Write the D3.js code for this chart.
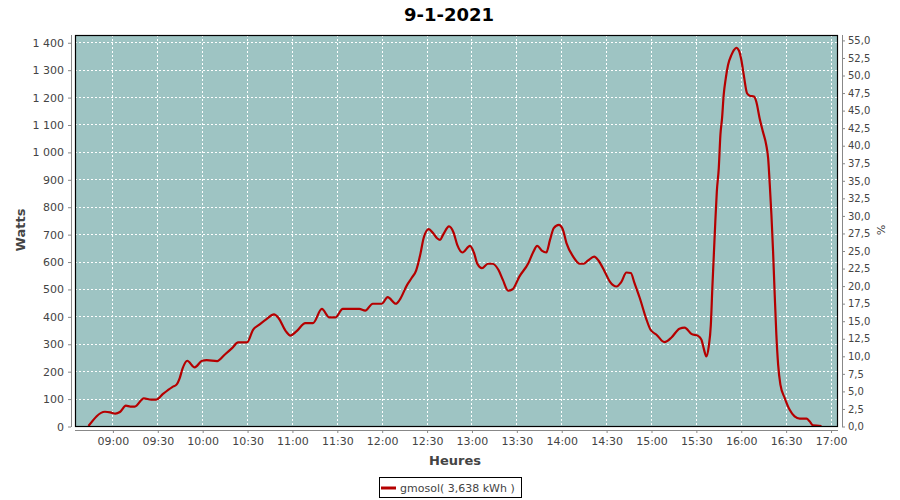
<!DOCTYPE html>
<html>
<head>
<meta charset="utf-8">
<script src="https://cdn.jsdelivr.net/npm/d3@7"></script>
<style>
  html, body { margin: 0; padding: 0; background: #ffffff; }
  svg { display: block; font-family: "DejaVu Sans", sans-serif; }
</style>
</head>
<body>
<svg id="chart" width="900" height="500"></svg>
<script>
// ---- data (minutes since midnight, watts) ----
const title = "9-1-2021";
const seriesName = "gmosol( 3,638 kWh )";
const minutes = [
  524, 535, 538.5, 542, 545, 549, 552, 555, 561, 566, 569, 574, 580, 583, 585, 587, 590, 595, 600, 603,
  610, 615, 620, 624, 630, 634, 638, 643, 648, 651, 656, 659, 663, 669, 674, 680, 685, 689, 694, 705,
  709, 714, 720, 724, 729.5, 732, 737, 740, 743, 746, 748, 751.5, 754, 757, 759, 761, 765, 768, 770.5, 774,
  779, 781.6, 784, 787, 791, 794, 798, 801, 804.5, 807.5, 812, 818, 821, 824, 827, 830, 832.5, 835, 838.4, 841,
  843.5, 848, 852.4, 855, 858, 862, 865, 869, 872.5, 877, 880, 883.6, 886.5, 889, 892.5, 897, 899.7, 903.7, 909, 913.7,
  919, 922.5, 927, 931.4, 933.7, 935.2, 937, 938.6, 940, 941, 942, 943, 944, 945.3, 946.4, 947.5, 948.6, 950, 951.5, 953.8,
  955.5, 957, 958.9, 960.4, 962, 964.2, 966, 968.8, 970.4, 972.6, 974.8, 977, 978.3, 979.4, 980.5, 981.6, 982.7, 983.8, 985, 986.5,
  989.4, 992.7, 996, 999.4, 1004, 1006, 1008.4, 1014
];
const watts = [
  0, 52, 50, 45, 51, 74, 71, 71, 101, 96, 96, 118, 142, 152, 175, 211, 238, 214, 238, 240,
  237, 260, 284, 305, 305, 351, 369, 390, 407, 394, 345, 330, 345, 375, 375, 427, 396, 396, 427, 427,
  421, 446, 446, 470, 446, 460, 515, 540, 567, 631, 685, 718, 706, 685, 679, 697, 728, 706, 661, 633,
  657, 633, 591, 576, 592, 592, 570, 533, 494, 499, 545, 594, 631, 657, 640, 633, 679, 722, 734, 718,
  667, 618, 592, 592, 604, 618, 603, 564, 527, 509, 524, 560, 558, 521, 467, 388, 351, 333, 306, 323,
  355, 359, 336, 329, 315, 284, 254, 290, 369, 503, 624, 746, 855, 940, 1062, 1123, 1208, 1269, 1317, 1354,
  1372, 1380, 1368, 1335, 1281, 1214, 1205, 1202, 1183, 1123, 1074, 1026, 977, 880, 770, 637, 479, 333, 223, 151,
  102, 59, 35, 27, 27, 17, 2, 0
];
const xTicks = [540, 570, 600, 630, 660, 690, 720, 750, 780, 810, 840, 870, 900, 930, 960, 990, 1020];
const wattTicks = [0, 100, 200, 300, 400, 500, 600, 700, 800, 900, 1000, 1100, 1200, 1300, 1400];
const pctTicks = [0, 2.5, 5, 7.5, 10, 12.5, 15, 17.5, 20, 22.5, 25, 27.5, 30, 32.5, 35, 37.5, 40, 42.5, 45, 47.5, 50, 52.5, 55];

// ---- layout ----
const plot = { left: 75, right: 838, top: 35, bottom: 426 };
const svg = d3.select("#chart");

const x = d3.scaleLinear().domain([515, 1025]).range([plot.left, plot.right]);
const y = d3.scaleLinear().domain([0, 1426.5]).range([plot.bottom, plot.top]);
const yPct = d3.scaleLinear().domain([0, 55.7]).range([plot.bottom, plot.top]);

const fmtTime = m => d3.format("02d")(Math.floor(m / 60)) + ":" + d3.format("02d")(m % 60);
const fmtW = v => d3.format(",")(v).replace(/,/g, " ");
const fmtP = v => d3.format(".1f")(v).replace(".", ",");

// title
svg.append("text").attr("x", 449).attr("y", 21).attr("text-anchor", "middle")
  .attr("font-size", 18).attr("font-weight", "bold").attr("fill", "#000").text(title);

// plot background
svg.append("rect").attr("x", plot.left).attr("y", plot.top)
  .attr("width", plot.right - plot.left).attr("height", plot.bottom - plot.top)
  .attr("fill", "#9ec4c3");

// grid
const grid = svg.append("g").attr("stroke", "#ffffff").attr("stroke-width", 1).attr("stroke-dasharray", "2,2");
grid.selectAll("line.v").data(xTicks).join("line")
  .attr("x1", d => Math.round(x(d)) + 0.5).attr("x2", d => Math.round(x(d)) + 0.5)
  .attr("y1", plot.top).attr("y2", plot.bottom);
grid.selectAll("line.h").data(wattTicks.filter(d => d > 0)).join("line")
  .attr("x1", plot.left).attr("x2", plot.right)
  .attr("y1", d => Math.round(y(d)) + 0.5).attr("y2", d => Math.round(y(d)) + 0.5);

// line
const data = minutes.map((m, i) => ({ m, v: watts[i] }));
const line = d3.line().x(d => x(d.m)).y(d => y(d.v)).curve(d3.curveMonotoneX);
svg.append("path").datum(data).attr("d", line)
  .attr("fill", "none").attr("stroke", "#b50000").attr("stroke-width", 2.2)
  .attr("stroke-linejoin", "round");

// plot border
svg.append("rect").attr("x", plot.left + 0.5).attr("y", plot.top + 0.5)
  .attr("width", plot.right - plot.left - 1).attr("height", plot.bottom - plot.top)
  .attr("fill", "none").attr("stroke", "#000").attr("stroke-width", 1.2);

// axes
function styleAxis(g) {
  g.select(".domain").attr("stroke", "#888");
  g.selectAll(".tick line").attr("stroke", "#888");
  g.selectAll(".tick text").attr("fill", "#444").attr("font-size", 11)
    .attr("font-family", "DejaVu Sans, sans-serif");
}

const yLeftScale = y.copy().range([plot.bottom + 0.5, plot.top + 0.5]);
svg.append("g").attr("transform", "translate(71,0)")
  .call(d3.axisLeft(yLeftScale).tickValues(wattTicks).tickFormat(fmtW).tickSizeOuter(0).tickSize(3).tickPadding(4))
  .call(styleAxis)
  .call(g => g.select(".domain").attr("d", `M0.5,${plot.top}V${plot.bottom + 1}`));

const yRightScale = yPct.copy().range([plot.bottom + 0.5, plot.top + 0.5]);
svg.append("g").attr("transform", "translate(842,0)")
  .call(d3.axisRight(yRightScale).tickValues(pctTicks).tickFormat(fmtP).tickSizeOuter(0).tickSize(3).tickPadding(3))
  .call(styleAxis)
  .call(g => g.selectAll(".tick text").attr("font-size", 10))
  .call(g => g.select(".domain").attr("d", `M0.5,${plot.top}V${plot.bottom + 1}`));

const xAxisScale = x.copy().range([plot.left + 0.5, plot.right + 0.5]);
svg.append("g").attr("transform", "translate(0,430)")
  .call(d3.axisBottom(xAxisScale).tickValues(xTicks).tickFormat(fmtTime).tickSizeOuter(0).tickSize(3).tickPadding(4))
  .call(styleAxis)
  .call(g => g.select(".domain").attr("d", `M${plot.left},0.5H${plot.right}`));

// axis titles
svg.append("text").attr("x", 455).attr("y", 465).attr("text-anchor", "middle")
  .attr("font-size", 13).attr("font-weight", "bold").attr("fill", "#444").text("Heures");
svg.append("text").attr("transform", "translate(25,230) rotate(-90)").attr("text-anchor", "middle")
  .attr("font-size", 13).attr("font-weight", "bold").attr("fill", "#444").text("Watts");
svg.append("text").attr("transform", "translate(877,230) rotate(90)").attr("text-anchor", "middle")
  .attr("font-size", 11).attr("fill", "#444").text("%");

// legend
const leg = svg.append("g");
leg.append("rect").attr("x", 379.5).attr("y", 477.5).attr("width", 142).attr("height", 20)
  .attr("fill", "#fff").attr("stroke", "#000").attr("stroke-width", 1);
leg.append("line").attr("x1", 381).attr("x2", 396).attr("y1", 488).attr("y2", 488)
  .attr("stroke", "#b50000").attr("stroke-width", 3);
leg.append("text").attr("x", 400).attr("y", 492).attr("font-size", 11).attr("fill", "#444").text(seriesName);
</script>
</body>
</html>
